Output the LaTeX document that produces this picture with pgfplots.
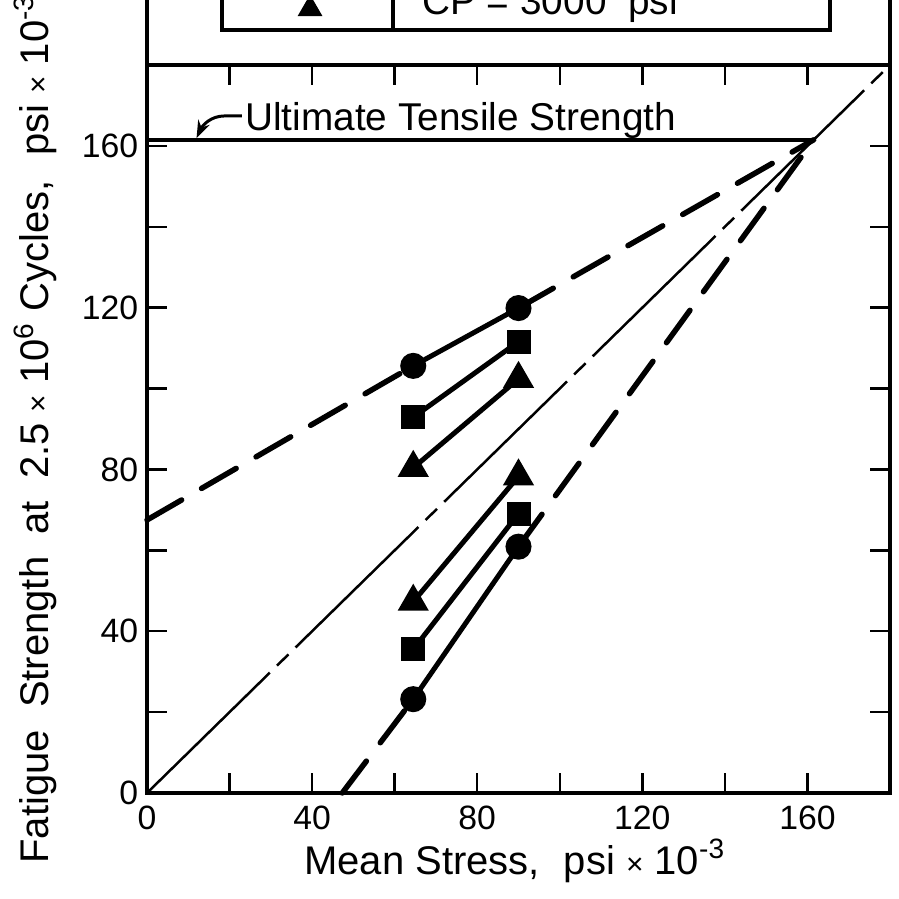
\documentclass[border=0pt]{standalone}
\usepackage{pgfplots}
\pgfplotsset{compat=1.18}
\usepackage{fontspec}
\setmainfont{Liberation Sans}
\usetikzlibrary{arrows.meta}

\newcommand{\lblfont}{\fontsize{16}{19}\selectfont}
\newcommand{\tms}{{\fontsize{12}{12}\selectfont ×}}

\begin{document}
\begin{tikzpicture}
\begin{axis}[
  name=ax,
  scale only axis,
  width=297.2pt, height=291.2pt,
  xmin=0, xmax=180, ymin=0, ymax=180,
  xtick={0,40,...,160}, ytick={0,40,...,160},
  minor xtick={20,60,100,140}, minor ytick={20,60,100,140},
  major tick length=8pt, minor tick length=8pt,
  tick align=inside,
  tick style={line width=1pt, black},
  axis line style={line width=1.6pt},
  /pgf/number format/assume math mode=true,
  ticklabel style={font=\fontsize{13.5}{16}\selectfont},
  xticklabel style={yshift=-1.5pt},
  xlabel={Mean Stress,\hspace{0.6em}psi \tms\ 10\textsuperscript{-3}},
  ylabel={Fatigue\ \ Strength\ \ at\ \ 2.5 \tms\ 10\textsuperscript{6} Cycles,\hspace{0.6em}psi \tms\ 10\textsuperscript{-3}},
  xlabel style={at={(axis description cs:0.495,-0.112)}, anchor=base, font=\lblfont},
  ylabel style={at={(axis description cs:-0.132,0.5)}, anchor=base, font=\lblfont},
  clip=false,
]
% 45 degree line
\addplot[line width=1pt, dash pattern=on 68.8pt off 4pt on 6.4pt off 4pt] coordinates {(0,0)(180,180)};
% ultimate tensile strength
\addplot[line width=1.6pt] coordinates {(0,161.5)(161.5,161.5)};
% extrapolated dashed lines
\addplot[line width=2.2pt, line cap=round, dash pattern=on 16pt off 9.2pt] coordinates {(0,67.5)(64.5,105.6)};
\addplot[line width=2.2pt, line cap=round, dash pattern=on 16pt off 9.2pt] coordinates {(90,119.9)(161.5,161.5)};
\addplot[line width=2.2pt, line cap=round, dash pattern=on 16pt off 9.2pt] coordinates {(47.3,0)(64.5,23.2)};
\addplot[line width=2.2pt, line cap=round, dash pattern=on 16pt off 9.2pt] coordinates {(90,60.9)(161.5,161.5)};
% data
\addplot[line width=2pt, mark=*, mark size=4.2pt, mark options={fill=black}] coordinates {(64.5,105.6)(90,119.9)};
\addplot[line width=2pt, mark=square*, mark size=3.8pt, mark options={fill=black}] coordinates {(64.5,92.9)(90,111.6)};
\addplot[line width=2pt, mark=triangle*, mark size=5.2pt, mark options={fill=black}] coordinates {(64.5,80.4)(90,102.4)};
\addplot[line width=2pt, mark=triangle*, mark size=5.2pt, mark options={fill=black}] coordinates {(64.5,47.3)(90,78.3)};
\addplot[line width=2pt, mark=square*, mark size=3.8pt, mark options={fill=black}] coordinates {(64.5,35.5)(90,69.1)};
\addplot[line width=2pt, mark=*, mark size=4.2pt, mark options={fill=black}] coordinates {(64.5,23.2)(90,60.9)};

% label with leader arrow
\draw[line width=1.2pt, -{Stealth[length=7pt,width=5pt]}]
  (axis cs:23,167.4) -- (axis cs:18.8,167.4) to[out=180,in=65] (axis cs:12.0,161.9);
\node[anchor=base west, inner sep=0, font=\fontsize{15.5}{18}\selectfont] at (axis cs:23.7,163.7) {Ultimate Tensile Strength};

% frame above the axis and the legend table
\draw[line width=1.6pt] (axis cs:0,180) -- (axis cs:0,210);
\draw[line width=1.6pt] (axis cs:180,180) -- (axis cs:180,210);
\draw[line width=1.4pt] (axis cs:18.2,215) -- (axis cs:18.2,188.7) -- (axis cs:165.4,188.7) -- (axis cs:165.4,215);
\draw[line width=1.4pt] (axis cs:59.6,188.7) -- (axis cs:59.6,215);
\fill (axis cs:36.5,192.1) -- (axis cs:42.5,192.1) -- (axis cs:39.5,197.4) -- cycle;
\node[anchor=base west, inner sep=0, font=\fontsize{15.5}{18}\selectfont] at (axis cs:66.6,192.4) {CP = 3000\ \ psi};
\end{axis}
\pgfresetboundingbox
\path[use as bounding box] ([shift={(-58.8pt,-42.4pt)}]ax.south west) rectangle ([shift={(3.2pt,26pt)}]ax.north east);
\end{tikzpicture}
\end{document}
